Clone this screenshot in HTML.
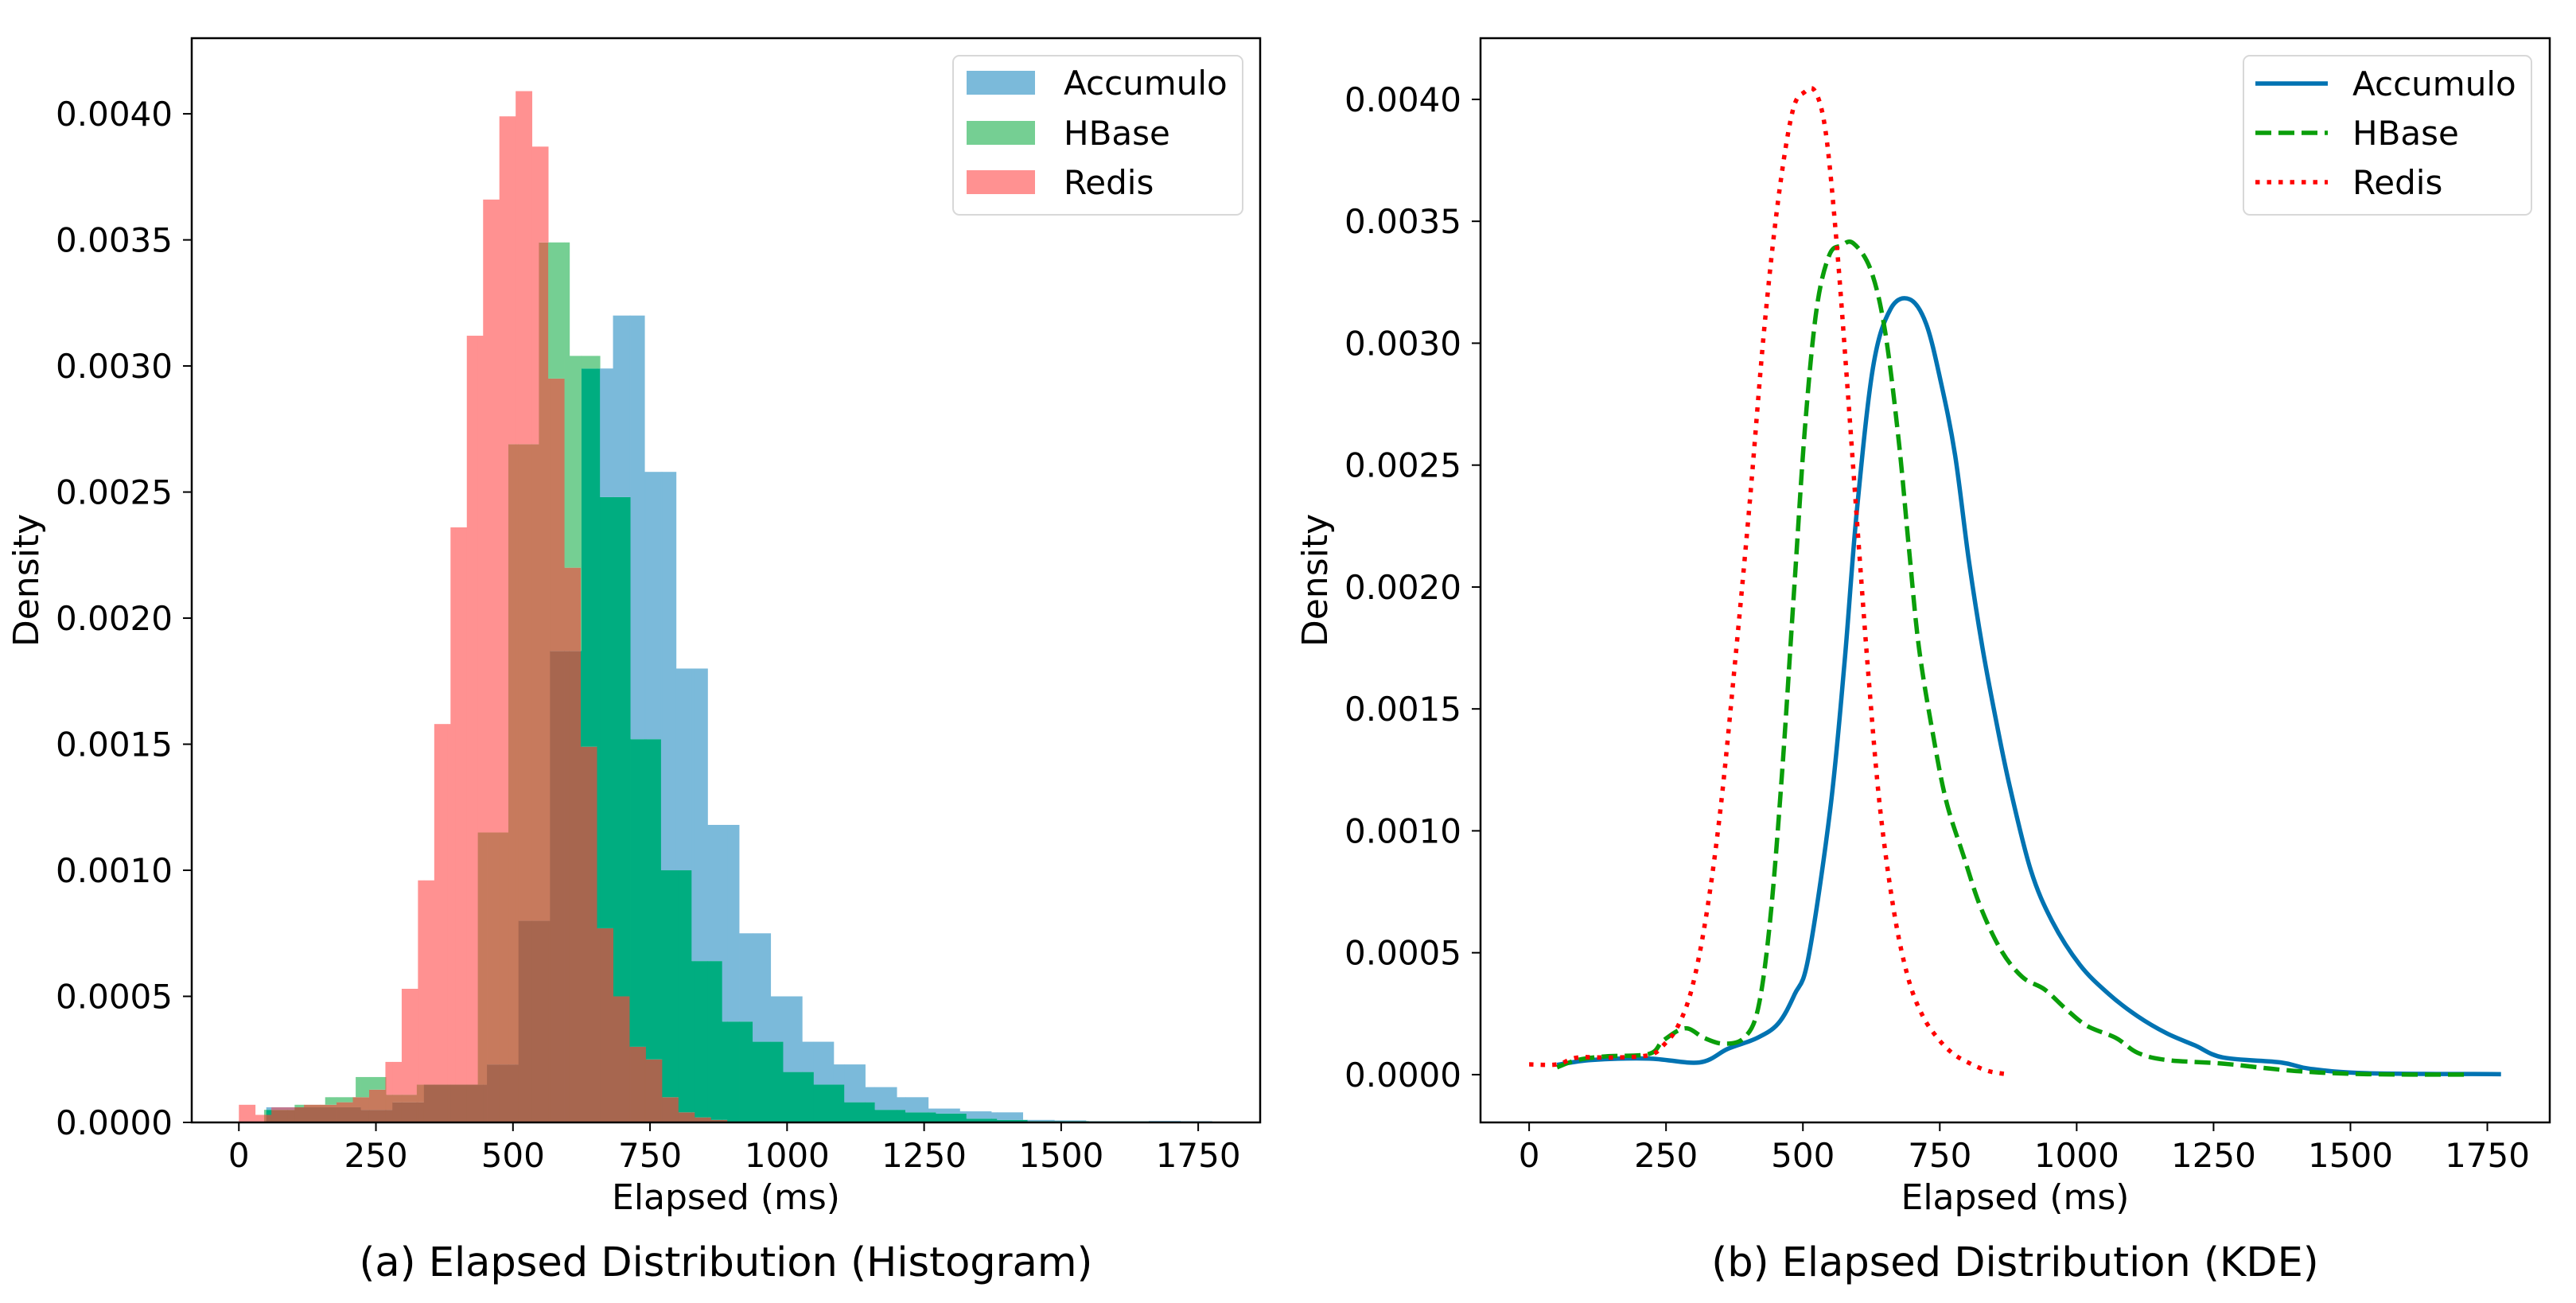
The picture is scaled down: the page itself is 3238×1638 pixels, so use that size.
<!DOCTYPE html>
<html><head><meta charset="utf-8"><style>
html,body{margin:0;padding:0;background:#fff;}
svg{display:block;font-family:"DejaVu Sans","Liberation Sans",sans-serif;}
</style></head><body>
<svg id="fig" width="3238" height="1638" viewBox="0 0 3238 1638" xmlns="http://www.w3.org/2000/svg">
<rect width="3238" height="1638" fill="#fff"/>
<g id="histPlot"></g>
<g id="kdePlot"></g>
</svg>
<script>
// ---------- data ----------
const xTicks = [0,250,500,750,1000,1250,1500,1750];
const yTicks = [0,0.0005,0.001,0.0015,0.002,0.0025,0.003,0.0035,0.004];
const yTickLabels = ["0.0000","0.0005","0.0010","0.0015","0.0020","0.0025","0.0030","0.0035","0.0040"];
const seriesNames = ["Accumulo","HBase","Redis"];

const accStart = 50, accWidth = 57.5;
const accDensity = [0.00006,0.00006,0.00006,0.00005,0.00008,0.00015,0.00015,0.00023,0.0008,0.00187,0.00299,0.0032,0.00258,0.0018,0.00118,0.00075,0.0005,0.00032,0.00023,0.00014,0.0001,0.000055,0.000044,0.00004,0.00001,0.000008,0.000005,0.000005,0.000006,0.000005];
const hbStart = 46, hbWidth = 55.7;
const hbDensity = [0.00005,0.00007,0.0001,0.00018,0.00011,0.00015,0.00015,0.00115,0.00269,0.00349,0.00304,0.00248,0.00152,0.001,0.00064,0.0004,0.00032,0.0002,0.00015,0.00008,0.00005,0.00004,0.000035,0.000015,0.00001,0.000005,0.000005,0.000004,0.000004,0.000003];
const rdStart = 0, rdWidth = 29.7;
const rdDensity = [0.00007,0.00003,0.00006,0.00006,0.00007,0.00007,0.00008,0.0001,0.00013,0.00024,0.00053,0.00096,0.00158,0.00236,0.00312,0.00366,0.00399,0.00409,0.00387,0.00295,0.0022,0.00149,0.00077,0.0005,0.0003,0.00025,0.0001,0.00004,0.00002,0.00001];

const kdeAccX = [51,114,219,311,363,416,455,485,510,550,576,598,628,660,695,725,752,778,803,828,853,878,916,955,1006,1059,1111,1164,1216,1268,1373,1426,1531,1775];
const kdeAccY = [0.00004,0.00006,0.000066,0.00005,0.000106,0.00015,0.00021,0.00033,0.00048,0.00109,0.00169,0.0023,0.0029,0.00314,0.00318,0.00308,0.00284,0.00254,0.00211,0.00175,0.00145,0.00118,0.00084,0.00063,0.00045,0.00033,0.00024,0.00017,0.00012,0.00007,0.00005,0.000024,0.000006,0.000002];
const kdeHbX = [51,88,140,219,245,285,320,355,392,418,440,462,484,504,525,548,570,592,624,650,675,694,712,738,762,793,824,862,901,941,980,1019,1072,1111,1164,1268,1400,1531,1720];
const kdeHbY = [0.00003,0.00006,0.000075,0.000085,0.00014,0.00019,0.00015,0.000127,0.00015,0.00027,0.00063,0.00124,0.00199,0.00266,0.00314,0.00336,0.0034,0.00341,0.0033,0.00305,0.0026,0.00215,0.00175,0.00139,0.00112,0.0009,0.00069,0.00051,0.0004,0.00035,0.00027,0.0002,0.00015,0.00009,0.00006,0.000045,0.000015,0.000002,0.0];
const kdeRdX = [0,51,88,153,219,245,272,298,324,350,376,403,429,455,481,503,523,542,562,582,602,621,641,667,693,719,746,772,798,838,880];
const kdeRdY = [0.000042,0.000042,0.00007,0.00007,0.00008,0.00012,0.0002,0.00036,0.00066,0.0011,0.00169,0.00235,0.00305,0.00359,0.00395,0.00403,0.00403,0.00386,0.0034,0.0028,0.00217,0.0016,0.00109,0.00066,0.00039,0.00024,0.00015,0.00009,0.000054,0.000015,0.0];

// ---------- helpers ----------
const NS = "http://www.w3.org/2000/svg";
function mk(tag, attrs, parent){ const e=document.createElementNS(NS,tag); for(const k in attrs) e.setAttribute(k,attrs[k]); if(parent) parent.appendChild(e); return e; }

function drawAxes(g, box, xs, ys, title){
  xTicks.forEach((t)=>{
    const x = xs(t);
    const tk = mk("line",{x1:x,x2:x,y1:box.b,y2:box.b+11,stroke:"#000","stroke-width":2},g);
    
    
    const lb = mk("text",{x:x,y:box.b+56,"font-size":42,"text-anchor":"middle",fill:"#000"},g);
    lb.textContent = t;
    
    
  });
  yTicks.forEach((t,i)=>{
    const y = ys(t);
    const tk = mk("line",{x1:box.l-11,x2:box.l,y1:y,y2:y,stroke:"#000","stroke-width":2},g);
    
    
    const lb = mk("text",{x:box.l-24,y:y+15,"font-size":42,"text-anchor":"end",fill:"#000"},g);
    lb.textContent = yTickLabels[i];
    
    
  });
  const frame = mk("rect",{x:box.l,y:box.t,width:box.r-box.l,height:box.b-box.t,fill:"none",stroke:"#000","stroke-width":2.5},g);
  
  
  const xl = mk("text",{x:(box.l+box.r)/2,y:1520,"font-size":44,"text-anchor":"middle",fill:"#000"},g);
  xl.textContent = "Elapsed (ms)";
  
  
  const cy=(box.t+box.b)/2, cx=box.l-193;
  const yl = mk("text",{x:cx,y:cy,"font-size":44,"text-anchor":"middle",fill:"#000",transform:`rotate(-90 ${cx} ${cy})`},g);
  yl.textContent = "Density";
  
  
  const cap = mk("text",{x:(box.l+box.r)/2,y:1604,"font-size":51,"text-anchor":"middle",fill:"#000"},g);
  cap.textContent = title;
  
  
}

// ---------- histogram ----------
(function(){
  const g = document.getElementById("histPlot");
  const box = {l:241,r:1584,t:48,b:1411};
  const x0=-86, x1=1863, yMax=0.0043;
  const xs = v => box.l + (v-x0)/(x1-x0)*(box.r-box.l);
  const ys = v => box.b - v/yMax*(box.b-box.t);
  const series = [
    {s:accStart,w:accWidth,d:accDensity},
    {s:hbStart,w:hbWidth,d:hbDensity},
    {s:rdStart,w:rdWidth,d:rdDensity}];
  const heightAt = (ser,x)=>{ const i=Math.floor((x-ser.s)/ser.w); return (i>=0&&i<ser.d.length)?ser.d[i]:0; };
  let edges=[];
  series.forEach(ser=>{ for(let i=0;i<=ser.d.length;i++) edges.push(+(ser.s+i*ser.w).toFixed(4)); });
  edges = [...new Set(edges)].sort((a,b)=>a-b);
  const colors = {"1":"#7BBADA","2":"#75CF93","4":"#FF9191","3":"#00AD80","6":"#C77A5D","5":"#C0788F","7":"#A7664F"};
  const bars = mk("g",{},g);
  
  
  for(let k=0;k<edges.length-1;k++){
    const a=edges[k], b=edges[k+1], mid=(a+b)/2;
    const hs = series.map(s=>heightAt(s,mid));
    const levels=[0,...[...new Set(hs)].filter(h=>h>0).sort((p,q)=>p-q)];
    for(let j=0;j<levels.length-1;j++){
      const lo=levels[j], hi=levels[j+1];
      let mask=0; hs.forEach((h,i)=>{ if(h>=hi) mask|=(1<<i); });
      if(!mask) continue;
      const r = mk("rect",{x:xs(a),y:ys(hi),width:xs(b)-xs(a)+0.4,height:ys(lo)-ys(hi),fill:colors[mask]},bars);
      
      
    }
  }
  drawAxes(g, box, xs, ys, "(a) Elapsed Distribution (Histogram)");
  const lg = mk("g",{},g);
  
  
  const lr = mk("rect",{x:1198,y:70,width:364,height:200,rx:8,fill:"#fff","fill-opacity":0.8,stroke:"#d8d8d8","stroke-width":2},lg);
  
  
  const pc=["#7BBADA","#75CF93","#FF9191"], py=[104,167,229];
  seriesNames.forEach((n,i)=>{
    const p = mk("rect",{x:1215,y:py[i]-15,width:86,height:30,fill:pc[i]},lg);
    
    
    const t = mk("text",{x:1337,y:py[i]+15,"font-size":42,fill:"#000"},lg);
    t.textContent=n;
    
    
  });
})();

// ---------- KDE ----------
(function(){
  const g = document.getElementById("kdePlot");
  const box = {l:1861,r:3205,t:48,b:1411};
  const x0=-88.8, x1=1864;
  const yMin=-0.000196, yMax=0.004251;
  const xs = v => box.l + (v-x0)/(x1-x0)*(box.r-box.l);
  const ys = v => box.b - (v-yMin)/(yMax-yMin)*(box.b-box.t);
  drawAxes(g, box, xs, ys, "(b) Elapsed Distribution (KDE)");
  const defs=[
    {x:kdeAccX,y:kdeAccY,c:"#0173B2",dash:"",n:"kde-line-accumulo"},
    {x:kdeHbX,y:kdeHbY,c:"#0A9E0A",dash:"20 9",n:"kde-line-hbase"},
    {x:kdeRdX,y:kdeRdY,c:"#FF0000",dash:"5.5 9",n:"kde-line-redis"}];
  function smoothPath(px,py){
    let d=`M${px[0]},${py[0]}`;
    for(let i=0;i<px.length-1;i++){
      const x0_=px[Math.max(0,i-1)],y0_=py[Math.max(0,i-1)],x1_=px[i],y1_=py[i],x2_=px[i+1],y2_=py[i+1],x3_=px[Math.min(px.length-1,i+2)],y3_=py[Math.min(px.length-1,i+2)];
      const c1x=x1_+(x2_-x0_)/6,c1y=y1_+(y2_-y0_)/6,c2x=x2_-(x3_-x1_)/6,c2y=y2_-(y3_-y1_)/6;
      d+=` C${c1x},${c1y} ${c2x},${c2y} ${x2_},${y2_}`;
    }
    return d;
  }
  defs.forEach(s=>{
    const px=s.x.map(xs), py=s.y.map(ys);
    const a={d:smoothPath(px,py),fill:"none",stroke:s.c,"stroke-width":5.5,"stroke-linejoin":"round"};
    if(s.dash) a["stroke-dasharray"]=s.dash;
    const p=mk("path",a,g);
    
    
  });
  const lg = mk("g",{},g);
  
  
  const lr = mk("rect",{x:2820,y:70,width:362,height:200,rx:8,fill:"#fff","fill-opacity":0.8,stroke:"#d8d8d8","stroke-width":2},lg);
  
  
  const py=[105,167,229];
  seriesNames.forEach((n,i)=>{
    const a={x1:2835,x2:2926,y1:py[i],y2:py[i],stroke:defs[i].c,"stroke-width":5.5};
    if(defs[i].dash) a["stroke-dasharray"]=defs[i].dash;
    const l=mk("line",a,lg);
    
    
    const t = mk("text",{x:2957,y:py[i]+15,"font-size":42,fill:"#000"},lg);
    t.textContent=n;
    
    
  });
})();
</script>
</body></html>
